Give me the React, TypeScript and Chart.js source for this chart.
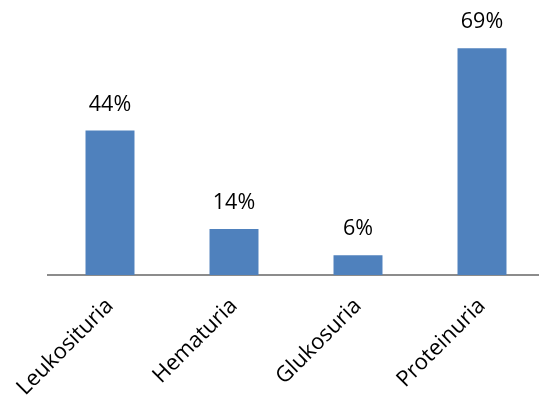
import React, { useEffect, useRef } from "react";
import { Chart, registerables } from "chart.js";

Chart.register(...registerables);

const categories = ["Leukosituria", "Hematuria", "Glukosuria", "Proteinuria"];
const values = [44, 14, 6, 69];
const valueLabels = ["44%", "14%", "6%", "69%"];

const FONT = "'Open Sans', sans-serif";

const valueLabelPlugin = {
  id: "valueLabels",
  afterDatasetsDraw(chart: any) {
    const ctx = chart.ctx;
    const meta = chart.getDatasetMeta(0);
    ctx.save();
    ctx.font = `21.5px ${FONT}`;
    ctx.fillStyle = "#000";
    ctx.textAlign = "center";
    ctx.textBaseline = "middle";
    meta.data.forEach((bar: any, i: number) => {
      ctx.fillText(valueLabels[i], bar.x, bar.y - 26);
    });
    ctx.restore();
  },
};

export default function App() {
  const ref = useRef<HTMLCanvasElement>(null);
  useEffect(() => {
    if (!ref.current) return;
    const chart = new Chart(ref.current, {
      type: "bar",
      data: {
        labels: categories,
        datasets: [
          {
            data: values,
            backgroundColor: "#4F81BD",
            borderWidth: 0,
            categoryPercentage: 1,
            barPercentage: 0.395,
          },
        ],
      },
      options: {
        responsive: false,
        animation: false,
        layout: { padding: { left: 48, right: 16, top: 0, bottom: 0 } },
        plugins: { legend: { display: false }, tooltip: { enabled: false } },
        scales: {
          x: {
            grid: { display: false },
            border: { display: true, color: "#8c8c8c", width: 2 },
            ticks: {
              color: "#000",
              font: { family: FONT, size: 22 },
              maxRotation: 45,
              minRotation: 45,
              padding: 10,
            },
            afterFit(scale: any) {
              scale.height = 126;
            },
          },
          y: {
            display: false,
            min: 0,
            max: 83.7,
          },
        },
      },
      plugins: [valueLabelPlugin],
    });
    return () => chart.destroy();
  }, []);
  return (
    <div style={{ position: "absolute", left: 0, top: 0, width: 539, height: 401, overflow: "hidden" }}>
      <canvas ref={ref} width={560} height={401} style={{ display: "block" }} />
    </div>
  );
}
